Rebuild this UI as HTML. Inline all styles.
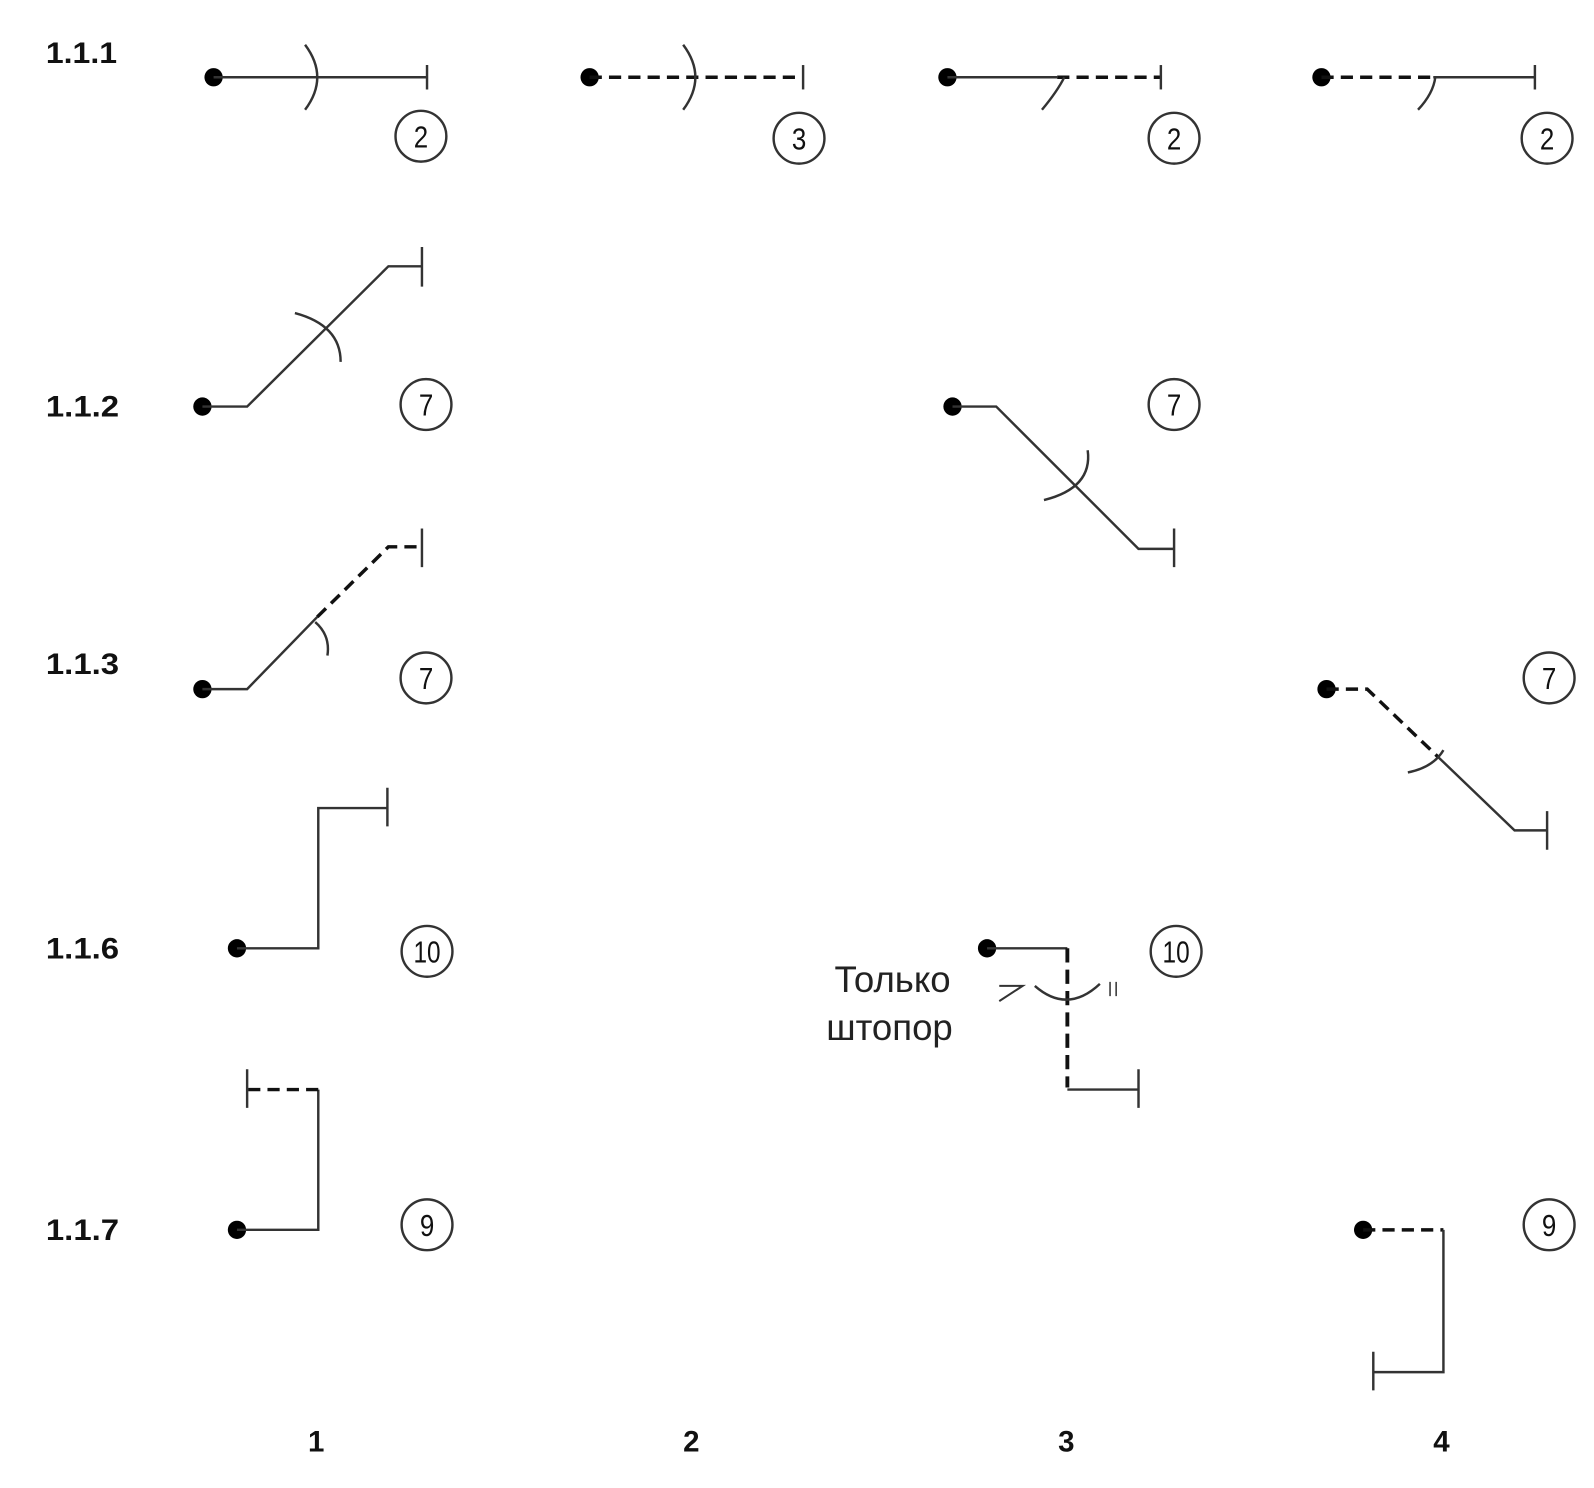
<!DOCTYPE html>
<html><head><meta charset="utf-8"><style>html,body{margin:0;padding:0;background:#fff}svg{display:block}</style></head><body>
<svg width="1594" height="1488" viewBox="0 0 1568 1464" xmlns="http://www.w3.org/2000/svg">
<g font-family="Liberation Sans, sans-serif" font-weight="bold" font-size="29" fill="#111">
<text x="45" y="62" textLength="70" lengthAdjust="spacingAndGlyphs">1.1.1</text>
<text x="45" y="410" textLength="72" lengthAdjust="spacingAndGlyphs">1.1.2</text>
<text x="45" y="663" textLength="72" lengthAdjust="spacingAndGlyphs">1.1.3</text>
<text x="45" y="943" textLength="72" lengthAdjust="spacingAndGlyphs">1.1.6</text>
<text x="45" y="1220" textLength="72" lengthAdjust="spacingAndGlyphs">1.1.7</text>
<text x="311" y="1428" text-anchor="middle">1</text>
<text x="680" y="1428" text-anchor="middle">2</text>
<text x="1049" y="1428" text-anchor="middle">3</text>
<text x="1418" y="1428" text-anchor="middle">4</text>
</g>
<g fill="#000">
<circle cx="210" cy="76" r="9"/><circle cx="580" cy="76" r="9"/><circle cx="932" cy="76" r="9"/><circle cx="1300" cy="76" r="9"/>
<circle cx="199" cy="400" r="9"/><circle cx="937" cy="400" r="9"/>
<circle cx="199" cy="678" r="9"/><circle cx="1305" cy="678" r="9"/>
<circle cx="233" cy="933" r="9"/><circle cx="971" cy="933" r="9"/>
<circle cx="233" cy="1210" r="9"/><circle cx="1341" cy="1210" r="9"/>
</g>
<g fill="none" stroke="#333" stroke-width="2.4">
<path d="M210 76H420M420 64V88"/><path d="M300 44Q324 76 300 108"/>
<path d="M580 76H790" stroke-dasharray="12 7" stroke-width="3.4" stroke="#111"/><path d="M790 64V88"/><path d="M672 44Q696 76 672 108"/>
<path d="M932 76H1040"/><path d="M1040 76H1142" stroke-dasharray="12 7" stroke-width="3.4" stroke="#111"/><path d="M1142 64V88"/><path d="M1025 108Q1040 90 1047 76"/>
<path d="M1300 76H1410" stroke-dasharray="12 7" stroke-width="3.4" stroke="#111"/><path d="M1410 76H1510M1510 64V88"/><path d="M1395 108Q1410 92 1412 76"/>
<path d="M199 400H243L382 262H415M415 243V282"/><path d="M290 308Q335 320 335 356"/>
<path d="M937 400H980L1120 540H1155M1155 520V558"/><path d="M1070 443Q1075 480 1027 492"/>
<path d="M199 678H243L312 607"/><path d="M312 607L382 538H415" stroke-dasharray="12 7" stroke-width="3.4" stroke="#111"/><path d="M415 520V558"/><path d="M310 612Q325 625 322 645"/>
<path d="M1305 678H1345L1415 745" stroke-dasharray="12 7" stroke-width="3.4" stroke="#111"/><path d="M1415 745L1490 817H1522M1522 798V836"/><path d="M1385 760Q1410 755 1420 738"/>
<path d="M233 933H313V795H381M381 775V813"/>
<path d="M971 933H1050"/><path d="M1050 933V1070" stroke-dasharray="14 7" stroke-width="3.8" stroke="#111"/><path d="M1050 1072H1120M1120 1052V1090"/>
<path d="M1018 970Q1050 998 1082 968"/><path d="M983 985L1006 970L983 970" stroke-width="2"/>
<path d="M1092 966V980M1098 966V980" stroke-width="1.5"/>
<path d="M233 1210H313V1072"/><path d="M313 1072H243" stroke-dasharray="12 7" stroke-width="3.4" stroke="#111"/><path d="M243 1052V1090"/>
<path d="M1341 1210H1420" stroke-dasharray="12 7" stroke-width="3.4" stroke="#111"/><path d="M1420 1210V1350H1351M1351 1330V1368"/>
<circle cx="414" cy="134" r="25"/><circle cx="786" cy="136" r="25"/><circle cx="1155" cy="136" r="25"/><circle cx="1522" cy="136" r="25"/>
<circle cx="419" cy="398" r="25"/><circle cx="1155" cy="398" r="25"/>
<circle cx="419" cy="667" r="25"/><circle cx="1524" cy="667" r="25"/>
<circle cx="420" cy="936" r="25"/><circle cx="1157" cy="936" r="25"/>
<circle cx="420" cy="1205" r="25"/><circle cx="1524" cy="1205" r="25"/>
</g>
<g font-family="Liberation Sans, sans-serif" font-size="30" fill="#111" text-anchor="middle">
<text transform="translate(414 145) scale(0.85 1)">2</text><text transform="translate(786 147) scale(0.85 1)">3</text><text transform="translate(1155 147) scale(0.85 1)">2</text><text transform="translate(1522 147) scale(0.85 1)">2</text>
<text transform="translate(419 409) scale(0.85 1)">7</text><text transform="translate(1155 409) scale(0.85 1)">7</text>
<text transform="translate(419 678) scale(0.85 1)">7</text><text transform="translate(1524 678) scale(0.85 1)">7</text>
<text transform="translate(420 947) scale(0.8 1)">10</text><text transform="translate(1157 947) scale(0.8 1)">10</text>
<text transform="translate(420 1216) scale(0.85 1)">9</text><text transform="translate(1524 1216) scale(0.85 1)">9</text>
</g>
<g font-family="Liberation Sans, 'DejaVu Sans', sans-serif" font-size="36" fill="#222" text-anchor="middle">
<text x="878" y="976">Только</text>
<text x="875" y="1023">штопор</text>
</g>
</svg>
</body></html>
